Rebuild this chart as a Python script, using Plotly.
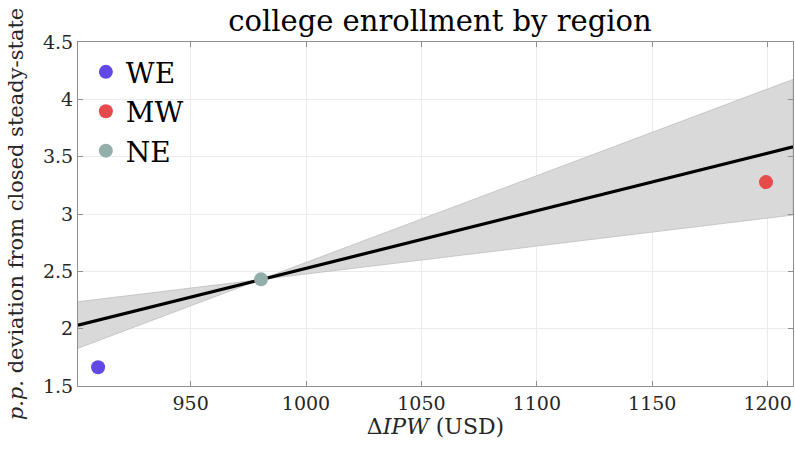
import plotly.graph_objects as go

# Data
regions = ["WE", "MW", "NE"]
ipw = [909.9, 1199.3, 980.5]
deviation = [1.663, 3.278, 2.430]
colors = ["#6248e6", "#e64a4a", "#94aeab"]

fit_x = [901.2, 1211.0]
fit_y = [2.030, 3.586]

band_x = [901.2, 980.2, 1211.0]
band_upper = [2.235, 2.428, 4.174]
band_lower = [1.829, 2.428, 2.991]

x_ticks = [950, 1000, 1050, 1100, 1150, 1200]
y_ticks = [1.5, 2, 2.5, 3, 3.5, 4, 4.5]
y_tick_text = ["1.5", "2", "2.5", "3", "3.5", "4", "4.5"]

FONT = "DejaVu Serif"
W, H = 795, 456

fig = go.Figure()

# confidence band polygon
fig.add_trace(go.Scatter(
    x=band_x + band_x[::-1],
    y=band_upper + band_lower[::-1],
    fill="toself",
    fillcolor="#d9d9d9",
    line=dict(color="#b8b8b8", width=0.7),
    mode="lines",
    hoverinfo="skip",
    showlegend=False,
))

fig.add_trace(go.Scatter(
    x=fit_x, y=fit_y, mode="lines",
    line=dict(color="black", width=3.2),
    showlegend=False,
))

for r, xv, yv, c in zip(regions, ipw, deviation, colors):
    fig.add_trace(go.Scatter(
        x=[xv], y=[yv], mode="markers", name=r,
        marker=dict(color=c, size=14),
    ))

axis_common = dict(
    showline=True, linecolor="#8f8f8f", linewidth=1, mirror="ticks",
    ticks="inside", ticklen=5, tickcolor="#8f8f8f",
    showgrid=True, gridcolor="#ebebeb", gridwidth=1,
    zeroline=False, automargin=False,
    tickfont=dict(family=FONT, size=19, color="#262626"),
)

fig.update_layout(
    width=W, height=H,
    margin=dict(l=78, r=2, t=42, b=70),
    paper_bgcolor="white", plot_bgcolor="white",
    title=dict(text="college enrollment by region", x=440 / W, xanchor="center", xref="container",
               y=1 - 21 / H, yanchor="middle", yref="container",
               font=dict(family=FONT, size=29, color="black")),
    xaxis=dict(range=[901.2, 1211.0], tickvals=x_ticks,
               title=dict(text="Δ<i>IPW</i> (USD)", standoff=3,
                          font=dict(family=FONT, size=22, color="#262626")),
               **axis_common),
    yaxis=dict(range=[1.5, 4.5], tickvals=y_ticks, ticktext=y_tick_text,
               title=dict(text="<i>p.p.</i> deviation from closed steady-state", standoff=13,
                          font=dict(family=FONT, size=21, color="#262626")),
               **axis_common),
    legend=dict(x=0.011, y=0.985, xanchor="left", yanchor="top",
                bgcolor="rgba(0,0,0,0)", font=dict(family=FONT, size=28, color="black"),
                itemwidth=30, tracegroupgap=0),
    showlegend=True,
)

fig.write_html(
    "out.html",
    config={"displayModeBar": False},
    post_script="document.body.style.margin='0';document.body.style.overflow='hidden';",
)
